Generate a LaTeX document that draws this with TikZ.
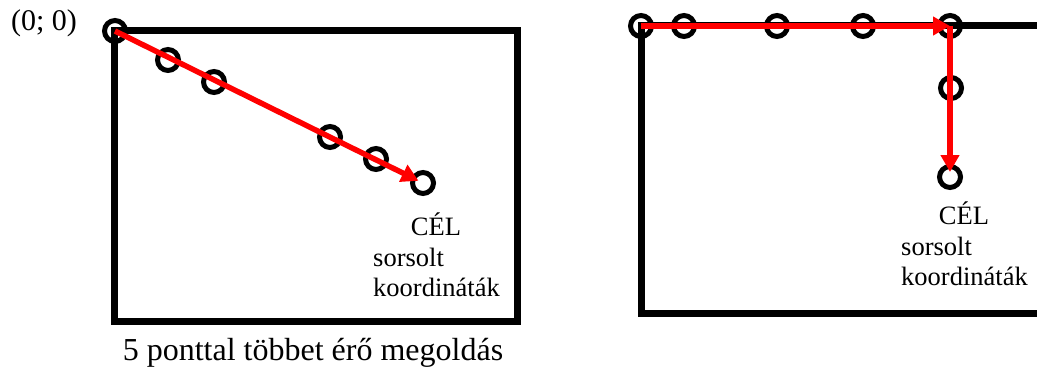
\documentclass[tikz,border=0pt]{standalone}
\usepackage{fontspec}
\setmainfont{Liberation Serif}
\usetikzlibrary{arrows.meta}
\begin{document}
\begin{tikzpicture}[x=1pt,y=-1pt,
  pt/.style={draw=black,circle,line width=5pt,minimum size=21pt,inner sep=0pt},
  boxline/.style={draw=black,line width=7pt},
  redarrow/.style={draw=red,line width=5.5pt,-{Triangle[length=17pt,width=18pt]},shorten >=5pt},
  lbl/.style={inner sep=0pt,font=\fontsize{26.5}{30}\selectfont},
  captiontext/.style={inner sep=0pt,font=\fontsize{32}{36}\selectfont}]
\useasboundingbox (0,0) rectangle (1037,369);
\begin{scope}
\clip (0,0) rectangle (1037,369);
% left box
\draw[boxline] (114,31) rectangle (517,321);
% right box (cut off at the right edge)
\draw[boxline] (1060,26) -- (641,26) -- (641,313) -- (1060,313);
\end{scope}
% left points
\node[pt] (l0) at (115,31) {};
\node[pt] (l1) at (168,60) {};
\node[pt] (l2) at (214,82) {};
\node[pt] (l3) at (330,137) {};
\node[pt] (l4) at (376,159) {};
\node[pt] (l5) at (423,183) {};
% right points
\node[pt] (r0) at (641,26) {};
\node[pt] (r1) at (684,26) {};
\node[pt] (r2) at (777,26) {};
\node[pt] (r3) at (863,26) {};
\node[pt] (r4) at (950,26) {};
\node[pt] (r5) at (951,88) {};
\node[pt] (r6) at (950,177) {};
% arrows
\draw[redarrow] (l0.center) -- (l5.center);
\draw[redarrow,shorten >=0pt] (r0.center) -- (r4.center);
\draw[redarrow] (r4.center) -- (r6.center);
% texts
\node[inner sep=0pt,font=\fontsize{30}{34}\selectfont] (origin) at (44,23) {(0; 0)};
\node[lbl] (celL) at (436,224) {CÉL};
\node[lbl,anchor=west] (sorL) at (373,257) {sorsolt};
\node[lbl,anchor=west] (koL) at (373,287) {koordináták};
\node[lbl] (celR) at (964,213) {CÉL};
\node[lbl,anchor=west] (sorR) at (901,246) {sorsolt};
\node[lbl,anchor=west] (koR) at (901,276) {koordináták};
\node[captiontext] (caption) at (313,353) {5 ponttal többet érő megoldás};
\end{tikzpicture}
\end{document}
